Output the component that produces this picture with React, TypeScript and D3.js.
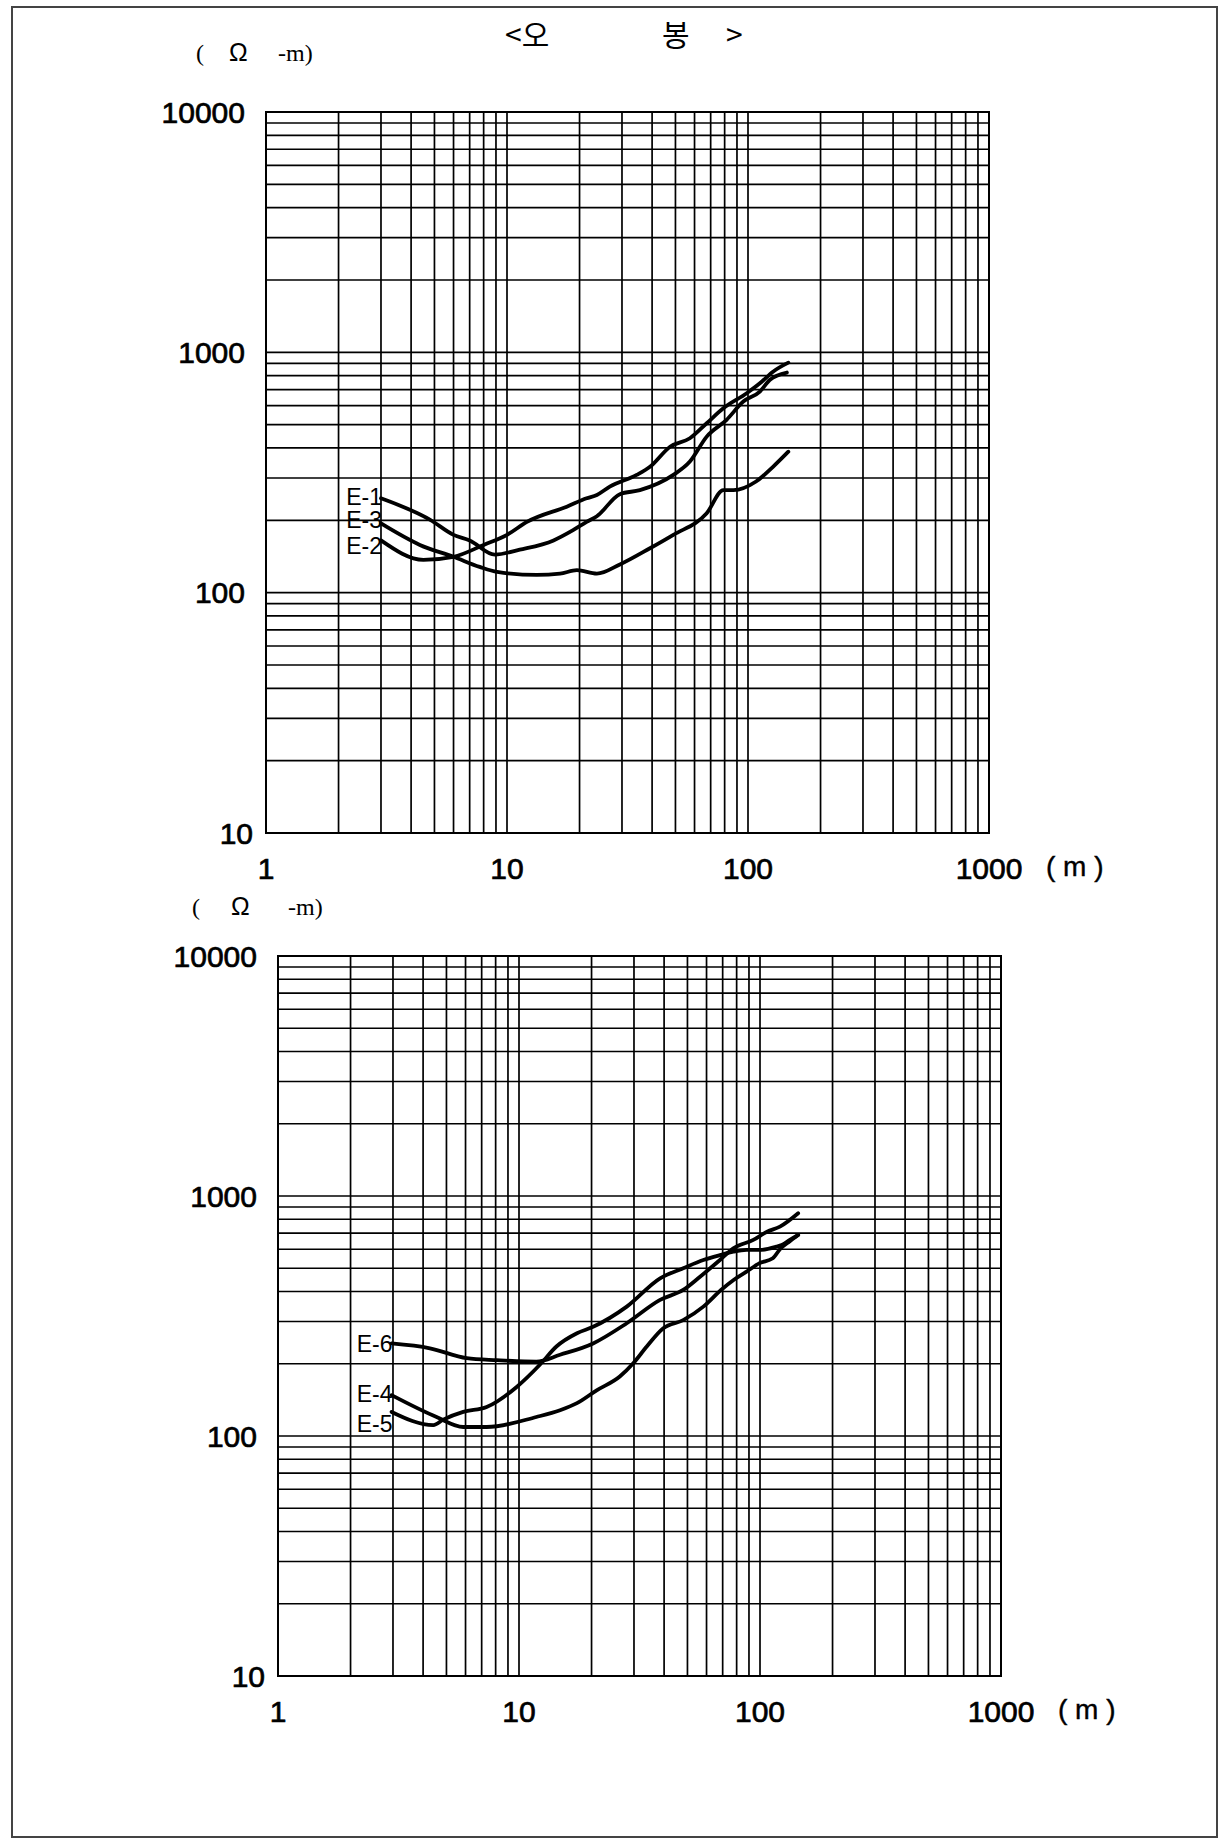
import React from 'react';
import * as d3 from 'd3';

const W = 1225;
const H = 1840;

// upper panel: E-1, E-2, E-3 (depth m, apparent resistivity ohm-m)
const e1Depth = [3, 4.8, 6, 7, 8.9, 11.3, 15.6, 18.8, 21.4, 23.6, 29.4, 35.6, 49, 57.4, 67.4, 81.5, 95.6, 112, 123, 145];
const e1Rho = [247, 201, 174, 165, 144, 151, 165, 182, 197, 208, 257, 267, 309, 351, 446, 524, 624, 687, 767, 824];

const e2Depth = [3, 4.5, 6, 8, 10, 12.1, 17.7, 21.4, 23.6, 26.7, 34.5, 39.2, 47.5, 57.4, 67.4, 79, 98.8, 112, 127, 147];
const e2Rho = [165, 137, 141, 158, 174, 197, 228, 247, 255, 276, 309, 334, 405, 439, 507, 585, 676, 743, 831, 906];

const e3Depth = [3, 4.35, 6, 7.7, 9.1, 13.3, 16.6, 19.5, 23.6, 29.4, 39.2, 49, 67.4, 79, 87, 108, 127, 147];
const e3Rho = [194, 158, 141, 128, 122, 118.5, 120, 124, 120, 131, 153, 174, 214, 267, 267, 290, 334, 386];

// lower panel: E-4, E-5, E-6
const e4Depth = [2.96, 4.55, 5.87, 7.34, 11.8, 14.8, 17.4, 21, 26.2, 29.8, 33.9, 39.7, 48, 58.2, 68.9, 77.7, 88, 99.6, 113, 121, 133, 144];
const e4Rho = [148, 120, 109, 109, 120, 128, 137, 155, 177, 201, 236, 281, 304, 346, 406, 447, 484, 525, 550, 600, 648, 688];

const e5Depth = [2.96, 4.41, 4.85, 5.87, 7.34, 9.78, 12.2, 14.3, 17.4, 20.3, 28, 38.5, 48, 58.2, 68.2, 77.5, 88, 100, 117, 123, 133, 144];
const e5Rho = [126, 111, 117, 126, 132, 160, 198, 236, 268, 285, 346, 454, 500, 541, 567, 586, 596, 596, 615, 625, 656, 688];

const e6Depth = [2.96, 4.27, 6.07, 8.08, 11.8, 14.8, 20.3, 28, 38.5, 48, 56.4, 68.2, 77.5, 93.8, 107, 121, 144];
const e6Rho = [243, 232, 211, 207, 204, 218, 243, 295, 369, 406, 461, 541, 605, 656, 710, 745, 847];

const xTickLabels = [1, 10, 100, 1000];
const yTickLabels = [10, 100, 1000, 10000];

const xDomain = [1, 1000];
const yDomain = [10, 10000];

const sans = '"Liberation Sans", Arial, sans-serif';

type Series = { name: string; depth: number[]; rho: number[]; ldy: number };

type PanelProps = {
  left: number;
  right: number;
  top: number;
  bottom: number;
  series: Series[];
  unitY: number;
  unitX: number[];
};

const Panel = ({ left, right, top, bottom, series, unitY, unitX }: PanelProps) => {
  const x = d3.scaleLog().domain(xDomain).range([left, right]);
  const y = d3.scaleLog().domain(yDomain).range([bottom, top]);

  const line = d3
    .line<[number, number]>()
    .x(d => x(d[0]))
    .y(d => y(d[1]))
    .curve(d3.curveMonotoneX);

  return (
    <g>
      {/* grid */}
      {x.ticks().map(t => (
        <line key={'gx' + t} x1={x(t)} x2={x(t)} y1={top} y2={bottom} stroke="#000" strokeWidth={1.7} />
      ))}
      {y.ticks().map(t => (
        <line key={'gy' + t} x1={left} x2={right} y1={y(t)} y2={y(t)} stroke="#000" strokeWidth={1.7} />
      ))}
      <rect x={left} y={top} width={right - left} height={bottom - top} fill="none" stroke="#000" strokeWidth={2} />

      {/* tick labels */}
      {yTickLabels.map(t => (
        <text
          key={'ly' + t}
          x={left - 21 + (t === 10 ? 8 : 0)}
          y={y(t)}
          dy="0.36em"
          textAnchor="end"
          fontFamily={sans}
          fontSize={30}
          stroke="#000"
          strokeWidth={0.7}
        >
          {t}
        </text>
      ))}
      {xTickLabels.map(t => (
        <text
          key={'lx' + t}
          x={x(t)}
          y={bottom + 46}
          textAnchor="middle"
          fontFamily={sans}
          fontSize={30}
          stroke="#000"
          strokeWidth={0.7}
        >
          {t}
        </text>
      ))}
      <text x={right + 57} y={bottom + 43} fontFamily={sans} fontSize={28} stroke="#000" strokeWidth={0.4} xmlSpace="preserve">
        ( m )
      </text>

      {/* unit label */}
      <g fontSize={24}>
        <text x={unitX[0]} y={unitY} fontFamily="serif">(</text>
        <text x={unitX[1]} y={unitY} fontFamily={sans} fontSize={25}>Ω</text>
        <text x={unitX[2]} y={unitY} fontFamily="serif">-m)</text>
      </g>

      {/* curves */}
      {series.map(s => {
        const pts = s.depth.map((d, i) => [d, s.rho[i]] as [number, number]);
        return (
          <g key={s.name}>
            <path d={line(pts) || ''} fill="none" stroke="#000" strokeWidth={3.8} strokeLinejoin="round" strokeLinecap="round" />
            <text
              x={x(s.depth[0]) + 1}
              y={y(s.rho[0]) + s.ldy}
              textAnchor="end"
              fontFamily={sans}
              fontSize={23}
            >
              {s.name}
            </text>
          </g>
        );
      })}
    </g>
  );
};

const App = () => {
  const topSeries: Series[] = [
    { name: 'E-1', depth: e1Depth, rho: e1Rho, ldy: 7 },
    { name: 'E-3', depth: e3Depth, rho: e3Rho, ldy: 5 },
    { name: 'E-2', depth: e2Depth, rho: e2Rho, ldy: 14 },
  ];
  const bottomSeries: Series[] = [
    { name: 'E-6', depth: e6Depth, rho: e6Rho, ldy: 9 },
    { name: 'E-4', depth: e4Depth, rho: e4Rho, ldy: 7 },
    { name: 'E-5', depth: e5Depth, rho: e5Rho, ldy: 20 },
  ];

  return (
    <svg
      width={W}
      height={H}
      viewBox={`0 0 ${W} ${H}`}
      style={{ position: 'absolute', left: 0, top: 0, background: '#fff' }}
    >
      <rect x={0} y={0} width={W} height={H} fill="#fff" />
      {/* page frame */}
      <rect x={12} y={7} width={1205} height={1830} fill="none" stroke="#444" strokeWidth={2} />

      {/* title */}
      <g fontFamily='"Noto Sans CJK KR", sans-serif' fontSize={30}>
        <text x={505} y={46}>&lt;오</text>
        <text x={662} y={46}>봉</text>
        <text x={726} y={46}>&gt;</text>
      </g>

      <Panel left={266} right={989} top={112} bottom={833} series={topSeries} unitY={61} unitX={[196, 229, 278]} />
      <Panel left={278} right={1001} top={956} bottom={1676} series={bottomSeries} unitY={915} unitX={[192, 231, 288]} />
    </svg>
  );
};

export default App;
